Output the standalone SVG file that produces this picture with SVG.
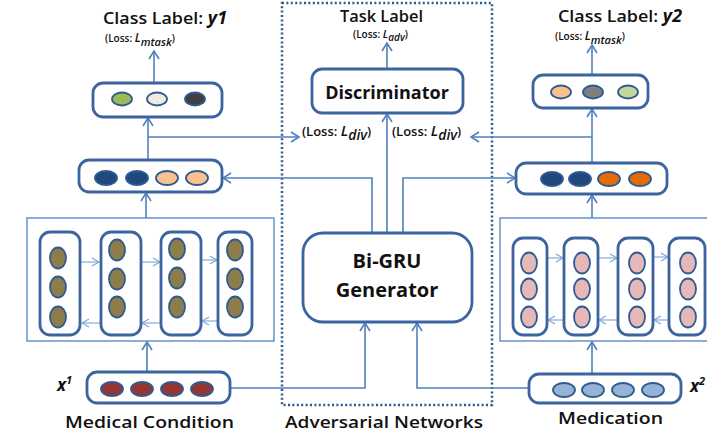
<svg xmlns="http://www.w3.org/2000/svg" width="707" height="439" viewBox="0 0 707 439">
  <defs>
    <marker id="arr" markerUnits="userSpaceOnUse" markerWidth="12" markerHeight="12" refX="9" refY="6" orient="auto">
      <path d="M1,1 L9,6 L1,11" fill="none" stroke="#4F81BD" stroke-width="1.6"/>
    </marker>
    <marker id="arrs" markerUnits="userSpaceOnUse" markerWidth="10" markerHeight="10" refX="8" refY="5" orient="auto">
      <path d="M1,1 L8,5 L1,9" fill="none" stroke="#7BA3D6" stroke-width="1.1"/>
    </marker>
  </defs>
  <style>
    .box{fill:#fff;stroke:#3B64A0;stroke-width:2.8}
    .cell{fill:#fff;stroke:#3B64A0;stroke-width:2.8}
    .dot{stroke:#2F5A92;stroke-width:1.8}
    .frame{fill:none;stroke:#4F81BD;stroke-width:1.3}
    .conn{fill:none;stroke:#4F81BD;stroke-width:1.6}
    .rnn{fill:none;stroke:#7BA3D6;stroke-width:1.1}
    .t{font-family:"Open Sans","Liberation Sans",sans-serif;fill:#111}
    .big{font-size:17px;font-weight:600}
    .small{font-size:10px;font-weight:600}
    .mid{font-size:13px;font-weight:600}
    .it{font-style:italic;font-weight:700}
    .li{font-style:italic;font-weight:600}
  </style>

  <!-- adversarial block outline -->
  <rect x="282" y="3" width="210" height="402" fill="none" stroke="#2E5C8A" stroke-width="2.5" stroke-dasharray="2 2.4"/>

  <!-- connectors -->
  <g id="connectors">
    <path class="conn" d="M154,83 V51" marker-end="url(#arr)"/>
    <path class="conn" d="M148,160 V118" marker-end="url(#arr)"/>
    <path class="conn" d="M148,137 H299" marker-end="url(#arr)"/>
    <path class="conn" d="M146,218 V193" marker-end="url(#arr)"/>
    <path class="conn" d="M372,233 V178 H223" marker-end="url(#arr)"/>
    <path class="conn" d="M147,372 V342" marker-end="url(#arr)"/>
    <path class="conn" d="M230,388 H365 V323" marker-end="url(#arr)"/>

    <path class="conn" d="M387,233 V114" marker-end="url(#arr)"/>
    <path class="conn" d="M387,69 V43" marker-end="url(#arr)"/>
    <path class="conn" d="M403,233 V178 H515" marker-end="url(#arr)"/>

    <path class="conn" d="M592,163 V109" marker-end="url(#arr)"/>
    <path class="conn" d="M592,137 H471" marker-end="url(#arr)"/>
    <path class="conn" d="M592,75 V45" marker-end="url(#arr)"/>
    <path class="conn" d="M592,218 V195" marker-end="url(#arr)"/>
    <path class="conn" d="M592,374 V342" marker-end="url(#arr)"/>
    <path class="conn" d="M529,388 H417 V323" marker-end="url(#arr)"/>

    <!-- recurrent links, left encoder -->
    <path class="rnn" d="M80,262 H99" marker-end="url(#arrs)"/>
    <path class="rnn" d="M141,262 H160" marker-end="url(#arrs)"/>
    <path class="rnn" d="M201,260 H217" marker-end="url(#arrs)"/>
    <path class="rnn" d="M101,323 H82" marker-end="url(#arrs)"/>
    <path class="rnn" d="M161,323 H142" marker-end="url(#arrs)"/>
    <path class="rnn" d="M218,321 H202" marker-end="url(#arrs)"/>
    <!-- recurrent links, right encoder -->
    <path class="rnn" d="M547,258 H563" marker-end="url(#arrs)"/>
    <path class="rnn" d="M598,258 H617" marker-end="url(#arrs)"/>
    <path class="rnn" d="M653,257 H668" marker-end="url(#arrs)"/>
    <path class="rnn" d="M564,320 H548" marker-end="url(#arrs)"/>
    <path class="rnn" d="M618,320 H599" marker-end="url(#arrs)"/>
    <path class="rnn" d="M669,320 H654" marker-end="url(#arrs)"/>
  </g>

  <!-- left branch -->
  <g id="y1-label">
    <text class="t big" x="103" y="24" textLength="124" lengthAdjust="spacingAndGlyphs">Class Label:  <tspan class="it">y1</tspan></text>
    <text class="t small" x="105" y="42">(Loss: <tspan class="li" font-size="12">L</tspan><tspan class="li" font-size="11" dy="4">mtask</tspan><tspan dy="-4">)</tspan></text>
  </g>
  <g id="y1-output">
    <rect class="box" x="93" y="83" width="129" height="34" rx="10"/>
    <ellipse class="dot" cx="122" cy="99" rx="10" ry="6.5" fill="#9BBB59"/>
    <ellipse class="dot" cx="157" cy="99" rx="10" ry="6.5" fill="#EEECE1"/>
    <ellipse class="dot" cx="195" cy="99" rx="10" ry="6.5" fill="#404040"/>
  </g>
  <g id="left-shared">
    <rect class="box" x="79" y="160" width="143" height="32" rx="10"/>
    <ellipse class="dot" cx="106" cy="178" rx="11" ry="7" fill="#1F497D"/>
    <ellipse class="dot" cx="137" cy="178" rx="11" ry="7" fill="#1F497D"/>
    <ellipse class="dot" cx="167" cy="178" rx="11" ry="7" fill="#FAC090"/>
    <ellipse class="dot" cx="197" cy="178" rx="11" ry="7" fill="#FAC090"/>
  </g>
  <g id="left-encoder">
    <rect class="frame" x="27" y="218" width="247" height="123"/>
    <rect class="cell" x="40" y="232" width="40" height="103" rx="10"/>
    <rect class="cell" x="101" y="232" width="40" height="103" rx="10"/>
    <rect class="cell" x="161" y="232" width="40" height="103" rx="10"/>
    <rect class="cell" x="218" y="232" width="34" height="103" rx="10"/>
    <g fill="#8C7D4A">
      <ellipse class="dot" cx="58" cy="258" rx="8" ry="10.5"/>
      <ellipse class="dot" cx="58" cy="287" rx="8" ry="10.5"/>
      <ellipse class="dot" cx="58" cy="317" rx="8" ry="10.5"/>
      <ellipse class="dot" cx="117" cy="250" rx="8" ry="10.5"/>
      <ellipse class="dot" cx="117" cy="279" rx="8" ry="10.5"/>
      <ellipse class="dot" cx="117" cy="307" rx="8" ry="10.5"/>
      <ellipse class="dot" cx="177" cy="249" rx="8" ry="10.5"/>
      <ellipse class="dot" cx="177" cy="278" rx="8" ry="10.5"/>
      <ellipse class="dot" cx="177" cy="307" rx="8" ry="10.5"/>
      <ellipse class="dot" cx="235" cy="250" rx="8" ry="10.5"/>
      <ellipse class="dot" cx="235" cy="279" rx="8" ry="10.5"/>
      <ellipse class="dot" cx="235" cy="307" rx="8" ry="10.5"/>
    </g>
  </g>
  <g id="x1-input">
    <rect class="box" x="87" y="372" width="143" height="31" rx="10"/>
    <ellipse class="dot" cx="112" cy="389" rx="11" ry="7" fill="#943634"/>
    <ellipse class="dot" cx="142" cy="389" rx="11" ry="7" fill="#943634"/>
    <ellipse class="dot" cx="172" cy="389" rx="11" ry="7" fill="#943634"/>
    <ellipse class="dot" cx="202" cy="389" rx="11" ry="7" fill="#943634"/>
    <text class="t it" x="57" y="391" font-size="17">x<tspan font-size="11" dy="-7">1</tspan></text>
    <text class="t big" x="65" y="428" font-size="18" textLength="169" lengthAdjust="spacingAndGlyphs">Medical Condition</text>
  </g>

  <!-- adversarial part -->
  <g id="task-label">
    <text class="t big" x="340" y="22" font-size="16" textLength="83" lengthAdjust="spacingAndGlyphs">Task Label</text>
    <text class="t small" x="353" y="38" font-size="9">(Loss: <tspan class="li" font-size="11">L</tspan><tspan class="li" font-size="10" dy="3">adv</tspan><tspan dy="-3">)</tspan></text>
  </g>
  <g id="discriminator">
    <rect class="box" x="312" y="69" width="151" height="44" rx="10"/>
    <text class="t" x="387" y="99" font-size="18" font-weight="700" text-anchor="middle">Discriminator</text>
  </g>
  <g id="loss-div">
    <text class="t mid" x="302" y="136">(Loss: <tspan class="li" font-size="15">L</tspan><tspan class="li" font-size="14" dy="4">div</tspan><tspan dy="-4">)</tspan></text>
    <text class="t mid" x="392" y="136">(Loss: <tspan class="li" font-size="15">L</tspan><tspan class="li" font-size="14" dy="4">div</tspan><tspan dy="-4">)</tspan></text>
  </g>
  <g id="generator">
    <rect class="box" x="303" y="233" width="169" height="89" rx="20"/>
    <text class="t" x="387" y="268" font-size="20" font-weight="700" text-anchor="middle">Bi-GRU</text>
    <text class="t" x="387" y="297" font-size="20" font-weight="700" text-anchor="middle">Generator</text>
  </g>
  <text class="t big" x="285" y="428" font-size="18" textLength="198" lengthAdjust="spacingAndGlyphs">Adversarial Networks</text>

  <!-- right branch -->
  <g id="y2-label">
    <text class="t big" x="558" y="22" textLength="124" lengthAdjust="spacingAndGlyphs">Class Label:  <tspan class="it">y2</tspan></text>
    <text class="t small" x="555" y="40">(Loss: <tspan class="li" font-size="12">L</tspan><tspan class="li" font-size="11" dy="4">mtask</tspan><tspan dy="-4">)</tspan></text>
  </g>
  <g id="y2-output">
    <rect class="box" x="533" y="75" width="115" height="33" rx="10"/>
    <ellipse class="dot" cx="561" cy="92" rx="10" ry="6.5" fill="#FAC090"/>
    <ellipse class="dot" cx="593" cy="92" rx="10" ry="6.5" fill="#7F7F7F"/>
    <ellipse class="dot" cx="628" cy="92" rx="10" ry="6.5" fill="#C3D69B"/>
  </g>
  <g id="right-shared">
    <rect class="box" x="516" y="163" width="151" height="31" rx="10"/>
    <ellipse class="dot" cx="552" cy="179" rx="11" ry="7" fill="#1F497D"/>
    <ellipse class="dot" cx="580" cy="179" rx="11" ry="7" fill="#1F497D"/>
    <ellipse class="dot" cx="609" cy="179" rx="11" ry="7" fill="#E36C09"/>
    <ellipse class="dot" cx="640" cy="179" rx="11" ry="7" fill="#E36C09"/>
  </g>
  <g id="right-encoder">
    <rect class="frame" x="500" y="218" width="212" height="123"/>
    <rect class="cell" x="513" y="238" width="34" height="97" rx="10"/>
    <rect class="cell" x="564" y="238" width="34" height="97" rx="10"/>
    <rect class="cell" x="618" y="238" width="35" height="97" rx="10"/>
    <rect class="cell" x="669" y="238" width="36" height="97" rx="10"/>
    <g fill="#E6B9B8">
      <ellipse class="dot" cx="529" cy="263" rx="8" ry="10.5"/>
      <ellipse class="dot" cx="529" cy="289" rx="8" ry="10.5"/>
      <ellipse class="dot" cx="529" cy="317" rx="8" ry="10.5"/>
      <ellipse class="dot" cx="582" cy="263" rx="8" ry="10.5"/>
      <ellipse class="dot" cx="582" cy="289" rx="8" ry="10.5"/>
      <ellipse class="dot" cx="582" cy="317" rx="8" ry="10.5"/>
      <ellipse class="dot" cx="637" cy="263" rx="8" ry="10.5"/>
      <ellipse class="dot" cx="637" cy="289" rx="8" ry="10.5"/>
      <ellipse class="dot" cx="637" cy="317" rx="8" ry="10.5"/>
      <ellipse class="dot" cx="688" cy="263" rx="8" ry="10.5"/>
      <ellipse class="dot" cx="688" cy="289" rx="8" ry="10.5"/>
      <ellipse class="dot" cx="688" cy="317" rx="8" ry="10.5"/>
    </g>
  </g>
  <g id="x2-input">
    <rect class="box" x="529" y="374" width="152" height="29" rx="10"/>
    <ellipse class="dot" cx="564" cy="390" rx="11" ry="7" fill="#95B3D7"/>
    <ellipse class="dot" cx="593" cy="390" rx="11" ry="7" fill="#95B3D7"/>
    <ellipse class="dot" cx="623" cy="390" rx="11" ry="7" fill="#95B3D7"/>
    <ellipse class="dot" cx="653" cy="390" rx="11" ry="7" fill="#95B3D7"/>
    <text class="t it" x="690" y="392" font-size="17">x<tspan font-size="11" dy="-7">2</tspan></text>
    <text class="t big" x="558" y="424" font-size="18" textLength="105" lengthAdjust="spacingAndGlyphs">Medication</text>
  </g>
</svg>
